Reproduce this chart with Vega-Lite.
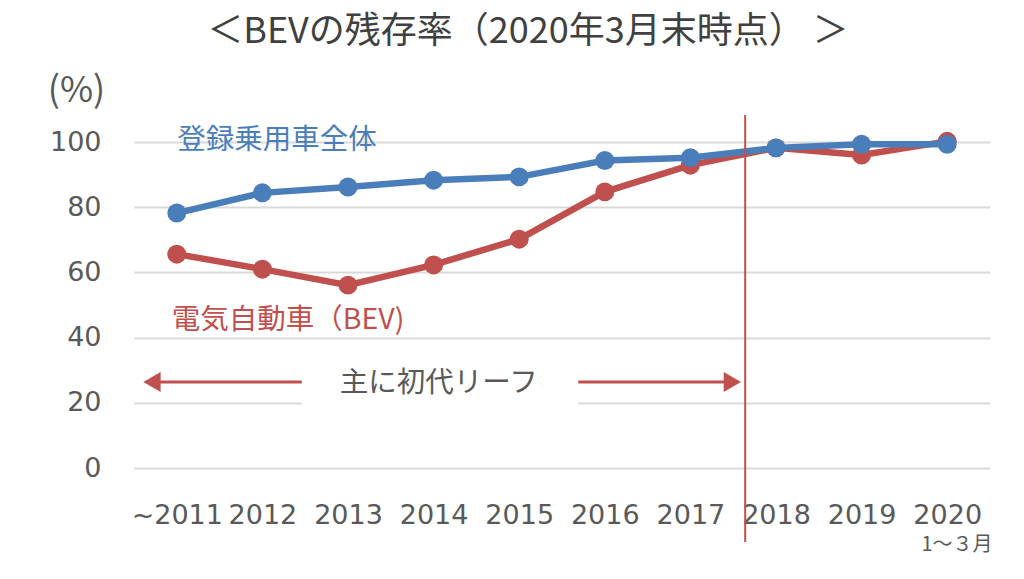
{
  "$schema": "https://vega.github.io/schema/vega-lite/v6.json",
  "width": 856,
  "height": 326,
  "autosize": {"type": "none"},
  "padding": {"left": 134, "top": 142, "right": 34, "bottom": 111},
  "background": "white",
  "title": {
    "text": "＜BEVの残存率（2020年3月末時点） ＞",
    "frame": "group",
    "anchor": "middle",
    "dx": -34,
    "offset": 21,
    "fontSize": 36,
    "fontWeight": "normal",
    "font": "Noto Sans CJK JP",
    "color": "#404040"
  },
  "config": {
    "view": {"stroke": null},
    "font": "Noto Sans CJK JP"
  },
  "datasets": {
    "series": [
      {"i": 1, "year": "~2011", "series": "電気自動車（BEV)", "value": 65.6},
      {"i": 2, "year": "2012", "series": "電気自動車（BEV)", "value": 61.0},
      {"i": 3, "year": "2013", "series": "電気自動車（BEV)", "value": 56.1},
      {"i": 4, "year": "2014", "series": "電気自動車（BEV)", "value": 62.3},
      {"i": 5, "year": "2015", "series": "電気自動車（BEV)", "value": 70.2},
      {"i": 6, "year": "2016", "series": "電気自動車（BEV)", "value": 84.7},
      {"i": 7, "year": "2017", "series": "電気自動車（BEV)", "value": 92.9},
      {"i": 8, "year": "2018", "series": "電気自動車（BEV)", "value": 98.2},
      {"i": 9, "year": "2019", "series": "電気自動車（BEV)", "value": 96.0},
      {"i": 10, "year": "2020", "series": "電気自動車（BEV)", "value": 100.2},
      {"i": 1, "year": "~2011", "series": "登録乗用車全体", "value": 78.2},
      {"i": 2, "year": "2012", "series": "登録乗用車全体", "value": 84.4},
      {"i": 3, "year": "2013", "series": "登録乗用車全体", "value": 86.2},
      {"i": 4, "year": "2014", "series": "登録乗用車全体", "value": 88.3},
      {"i": 5, "year": "2015", "series": "登録乗用車全体", "value": 89.3},
      {"i": 6, "year": "2016", "series": "登録乗用車全体", "value": 94.3},
      {"i": 7, "year": "2017", "series": "登録乗用車全体", "value": 95.2},
      {"i": 8, "year": "2018", "series": "登録乗用車全体", "value": 98.2},
      {"i": 9, "year": "2019", "series": "登録乗用車全体", "value": 99.3},
      {"i": 10, "year": "2020", "series": "登録乗用車全体", "value": 99.3}
    ]
  },
  "layer": [
    {
      "data": {"values": [{"x": 2.46, "x2": 5.69, "y": 18.3, "y2": 21.7}]},
      "mark": {"type": "rect", "color": "white"},
      "encoding": {
        "x": {
          "field": "x", "type": "quantitative",
          "scale": {"domain": [0.5, 10.5], "nice": false, "zero": false},
          "axis": {
            "values": [1, 2, 3, 4, 5, 6, 7, 8, 9, 10],
            "labelExpr": "['~2011','2012','2013','2014','2015','2016','2017','2018','2019','2020'][datum.value - 1]",
            "title": null,
            "grid": false,
            "ticks": false,
            "domain": false,
            "labelFontSize": 27,
            "labelColor": "#595959",
            "labelPadding": 34,
            "labelFont": "DejaVu Sans"
          }
        },
        "x2": {"field": "x2"},
        "y": {
          "field": "y", "type": "quantitative",
          "scale": {"domain": [0, 100], "nice": false},
          "axis": {
            "values": [0, 20, 40, 60, 80, 100],
            "title": "(%)",
            "titleAngle": 0,
            "titleX": -58,
            "titleY": -52,
            "titleAlign": "center",
            "titleBaseline": "middle",
            "titleFontSize": 36,
            "titleFontWeight": "normal",
            "titleColor": "#595959",
            "titleFont": "Noto Sans CJK JP",
            "grid": true,
            "gridColor": "#d9d9d9",
            "gridWidth": 2,
            "ticks": false,
            "domain": false,
            "labelFontSize": 27,
            "labelColor": "#595959",
            "labelPadding": 33,
            "labelFont": "DejaVu Sans"
          }
        },
        "y2": {"field": "y2"}
      }
    },
    {
      "data": {"name": "series"},
      "transform": [{"filter": "datum.series === '電気自動車（BEV)'"}],
      "mark": {"type": "line", "color": "#c0504d", "strokeWidth": 6.5},
      "encoding": {
        "x": {"field": "i", "type": "quantitative"},
        "y": {"field": "value", "type": "quantitative"}
      }
    },
    {
      "data": {"name": "series"},
      "transform": [{"filter": "datum.series === '電気自動車（BEV)'"}],
      "mark": {"type": "point", "filled": true, "size": 360, "color": "#c0504d", "opacity": 1},
      "encoding": {
        "x": {"field": "i", "type": "quantitative"},
        "y": {"field": "value", "type": "quantitative"}
      }
    },
    {
      "data": {"name": "series"},
      "transform": [{"filter": "datum.series === '登録乗用車全体'"}],
      "mark": {"type": "line", "color": "#4a7ebb", "strokeWidth": 6.5},
      "encoding": {
        "x": {"field": "i", "type": "quantitative"},
        "y": {"field": "value", "type": "quantitative"}
      }
    },
    {
      "data": {"name": "series"},
      "transform": [{"filter": "datum.series === '登録乗用車全体'"}],
      "mark": {"type": "point", "filled": true, "size": 360, "color": "#4a7ebb", "opacity": 1},
      "encoding": {
        "x": {"field": "i", "type": "quantitative"},
        "y": {"field": "value", "type": "quantitative"}
      }
    },
    {
      "data": {"values": [{"x": 7.64, "y": -22.7, "y2": 108.3}]},
      "mark": {"type": "rule", "color": "#c0504d", "strokeWidth": 2, "clip": false},
      "encoding": {
        "x": {"field": "x", "type": "quantitative"},
        "y": {"field": "y", "type": "quantitative"},
        "y2": {"field": "y2"}
      }
    },
    {
      "data": {"values": [{"x": 0.75, "x2": 2.46, "y": 26.4}, {"x": 5.69, "x2": 7.45, "y": 26.4}]},
      "mark": {"type": "rule", "color": "#c0504d", "strokeWidth": 3},
      "encoding": {
        "x": {"field": "x", "type": "quantitative"},
        "x2": {"field": "x2"},
        "y": {"field": "y", "type": "quantitative"}
      }
    },
    {
      "data": {"values": [{"x": 0.71, "y": 26.4, "dir": "left"}, {"x": 7.49, "y": 26.4, "dir": "right"}]},
      "mark": {"type": "point", "filled": true, "size": 400, "color": "#c0504d", "opacity": 1},
      "encoding": {
        "x": {"field": "x", "type": "quantitative"},
        "y": {"field": "y", "type": "quantitative"},
        "shape": {
          "field": "dir", "type": "nominal",
          "scale": {"domain": ["left", "right"], "range": ["triangle-left", "triangle-right"]},
          "legend": null
        }
      }
    },
    {
      "data": {"values": [
        {"x": 2.17, "y": 100.6, "label": "登録乗用車全体", "kind": "blue"},
        {"x": 2.3, "y": 45.5, "label": "電気自動車（BEV)", "kind": "red"},
        {"x": 4.06, "y": 26.1, "label": "主に初代リーフ", "kind": "gray"}
      ]},
      "mark": {"type": "text", "fontSize": 28.5, "align": "center", "baseline": "middle", "font": "Noto Sans CJK JP"},
      "encoding": {
        "x": {"field": "x", "type": "quantitative"},
        "y": {"field": "y", "type": "quantitative"},
        "text": {"field": "label"},
        "color": {
          "field": "kind", "type": "nominal",
          "scale": {"domain": ["blue", "red", "gray"], "range": ["#4a7ebb", "#c0504d", "#595959"]},
          "legend": null
        }
      }
    },
    {
      "data": {"values": [{"x": 10.53, "y": -23.5, "label": "1～３月"}]},
      "mark": {"type": "text", "fontSize": 20, "align": "right", "baseline": "middle", "color": "#595959", "font": "Noto Sans CJK JP"},
      "encoding": {
        "x": {"field": "x", "type": "quantitative"},
        "y": {"field": "y", "type": "quantitative"},
        "text": {"field": "label"}
      }
    }
  ]
}
